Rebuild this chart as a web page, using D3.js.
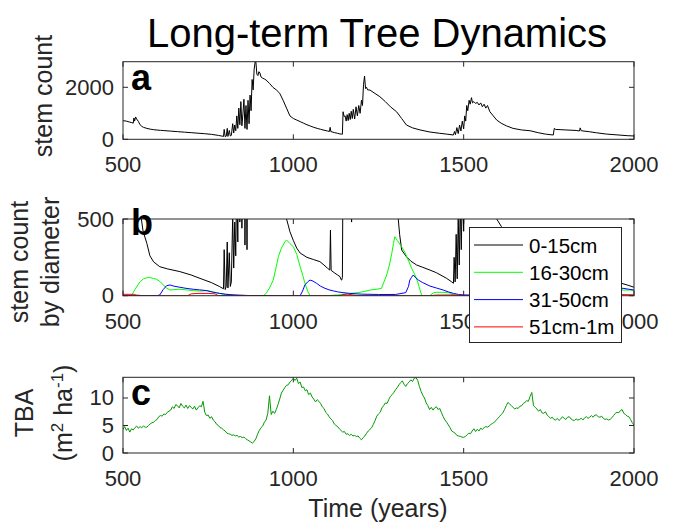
<!DOCTYPE html>
<html>
<head>
<meta charset="utf-8">
<script src="https://cdn.jsdelivr.net/npm/d3@7"></script>
<style>
  body { margin: 0; background: #fff; }
  svg { display: block; font-family: "Liberation Sans", Arial, Helvetica, sans-serif; }
</style>
</head>
<body>
<script>
// ---- data ----
const xTicks = [500, 1000, 1500, 2000];

// panel a: total stem count, [year, count]
const stemTotal = [
  [500, 715], [510, 700], [520, 660], [526, 640], [530, 620], [532, 820], [534, 700], [537, 860], [540, 780],
  [545, 690], [550, 560], [555, 500], [560, 460], [570, 420], [580, 390], [590, 370], [600, 355], [610, 345],
  [620, 335], [640, 315], [660, 295], [680, 275], [700, 255], [720, 235], [740, 215], [760, 190], [780, 150],
  [790, 125], [795, 110], [797, 380], [800, 100], [803, 120], [806, 420], [808, 110], [812, 340], [815, 130],
  [818, 150], [822, 600], [825, 240], [828, 550], [831, 330], [834, 900], [837, 420], [840, 1200], [843, 560],
  [846, 1450], [849, 520], [852, 980], [855, 1540], [858, 420], [861, 1300], [864, 380], [867, 1500], [870, 600],
  [873, 1700], [876, 1100], [879, 2300], [882, 1900], [885, 2700], [888, 2985], [890, 2985], [893, 2500],
  [896, 2450], [899, 2600], [902, 2550], [905, 2400], [910, 2350], [915, 2320], [920, 2280], [930, 2150],
  [940, 2000], [950, 1900], [960, 1770], [970, 1500], [980, 1200], [990, 900], [1000, 800], [1010, 740],
  [1020, 680], [1030, 620], [1040, 560], [1050, 510], [1060, 460], [1070, 420], [1080, 385], [1090, 350],
  [1100, 320], [1106, 300], [1108, 460], [1110, 300], [1120, 260], [1130, 230], [1137, 205], [1142, 200],
  [1144, 195], [1146, 1060], [1149, 880], [1152, 900], [1155, 700], [1158, 950], [1161, 720], [1164, 1000],
  [1167, 760], [1170, 1080], [1173, 800], [1176, 1150], [1180, 780], [1184, 1250], [1188, 900], [1192, 1300],
  [1196, 1000], [1200, 1500], [1203, 1300], [1206, 2100], [1209, 2435], [1212, 1950], [1215, 2000], [1218, 1900],
  [1225, 1895], [1240, 1760], [1254, 1640], [1270, 1450], [1285, 1250], [1303, 1060], [1318, 800], [1332, 550],
  [1350, 440], [1372, 360], [1401, 280], [1430, 230], [1450, 200], [1470, 165], [1473, 300], [1476, 180],
  [1480, 450], [1484, 220], [1488, 550], [1492, 320], [1496, 700], [1500, 400], [1503, 900], [1506, 700],
  [1509, 1300], [1512, 1100], [1516, 1500], [1519, 1350], [1523, 1600], [1526, 1400], [1530, 1450], [1535, 1380],
  [1540, 1420], [1545, 1320], [1550, 1400], [1555, 1250], [1560, 1350], [1565, 1200], [1570, 1300], [1577, 1060],
  [1587, 900], [1597, 740], [1610, 620], [1625, 520], [1645, 420], [1670, 360], [1695, 330], [1720, 250],
  [1740, 200], [1763, 165], [1766, 420], [1770, 380], [1800, 360], [1830, 340], [1840, 320], [1842, 440],
  [1845, 330], [1870, 290], [1890, 250], [1920, 200], [1950, 170], [1980, 140], [2000, 127]
];

// panel b: stem count per diameter class, [year, count]
const stem0to15 = [
  [500, 900], [520, 850], [540, 700], [550, 560], [559, 420], [570, 341], [579, 260], [590, 220], [608, 189],
  [630, 175], [667, 157], [700, 135], [726, 113], [760, 85], [784, 59], [795, 45], [797, 300], [800, 40],
  [803, 60], [806, 350], [808, 50], [812, 280], [815, 60], [818, 90], [822, 520], [825, 180], [828, 480],
  [831, 260], [834, 800], [837, 350], [840, 1100], [843, 480], [846, 1350], [849, 440], [852, 900], [855, 1450],
  [858, 330], [861, 1200], [864, 300], [867, 1400], [870, 520], [873, 1600], [876, 1000], [880, 2000], [900, 2200],
  [950, 1200], [970, 700], [980, 500], [985, 460], [990, 417], [1000, 360], [1010, 310], [1020, 278], [1040, 250],
  [1060, 235], [1078, 222], [1090, 200], [1100, 180], [1107, 167], [1109, 428], [1111, 165], [1120, 150],
  [1130, 135], [1137, 124], [1140, 105], [1142, 102], [1144, 120], [1146, 900], [1150, 800], [1160, 850],
  [1170, 700], [1171, 480], [1172, 700], [1180, 800], [1200, 1200], [1250, 1300], [1290, 700], [1300, 560],
  [1308, 500], [1312, 400], [1318, 298], [1332, 254], [1345, 225], [1362, 200], [1380, 185], [1401, 167],
  [1420, 150], [1450, 113], [1465, 90], [1470, 81], [1472, 250], [1475, 90], [1478, 400], [1481, 110],
  [1484, 520], [1487, 200], [1490, 600], [1493, 300], [1496, 700], [1500, 420], [1503, 800], [1510, 1000],
  [1550, 1000], [1590, 560], [1597, 500], [1611, 450], [1620, 400], [1640, 330], [1660, 280], [1680, 240],
  [1700, 210], [1720, 170], [1740, 140], [1763, 110], [1766, 250], [1770, 220], [1800, 190], [1840, 150],
  [1842, 230], [1845, 150], [1880, 120], [1920, 100], [1963, 81], [1980, 70], [2000, 55]
];
const stem16to30 = [
  [500, 0], [520, 0], [525, 2], [535, 40], [550, 91], [560, 110], [570, 117], [580, 118], [590, 112], [599, 107],
  [610, 90], [618, 70], [628, 50], [638, 37], [650, 40], [667, 42], [685, 38], [706, 33], [725, 30], [746, 33],
  [765, 25], [784, 15], [800, 8], [814, 5], [830, 0], [912, 0], [920, 15], [930, 50], [941, 102], [950, 190],
  [956, 254], [965, 310], [975, 350], [980, 363], [990, 340], [1000, 319], [1010, 270], [1020, 189], [1028, 130],
  [1034, 81], [1042, 30], [1049, 0], [1100, 0], [1130, 5], [1150, 10], [1166, 15], [1190, 20], [1210, 28],
  [1225, 37], [1245, 42], [1259, 48], [1266, 90], [1274, 135], [1282, 200], [1289, 276], [1294, 340], [1298, 385],
  [1305, 360], [1318, 319], [1328, 280], [1337, 233], [1347, 180], [1357, 135], [1365, 90], [1372, 37], [1377, 0],
  [1400, 0], [1411, 18], [1420, 22], [1440, 22], [1460, 18], [1470, 5], [1480, 0], [1600, 0], [1620, 10],
  [1650, 40], [1680, 70], [1700, 80], [1730, 60], [1760, 50], [1800, 40], [1850, 35], [1900, 40], [1950, 38],
  [1968, 37], [1990, 37], [2000, 30]
];
const stem31to50 = [
  [500, 0], [600, 0], [608, 5], [618, 40], [628, 65], [638, 70], [650, 62], [667, 55], [685, 48], [706, 42],
  [725, 38], [746, 33], [765, 22], [784, 15], [800, 10], [814, 7], [840, 4], [880, 0], [1020, 0], [1027, 30],
  [1034, 70], [1042, 90], [1049, 102], [1058, 95], [1068, 81], [1080, 62], [1093, 48], [1105, 38], [1118, 31],
  [1130, 25], [1146, 20], [1166, 15], [1200, 10], [1250, 8], [1300, 8], [1330, 20], [1338, 60], [1342, 102],
  [1347, 120], [1352, 135], [1358, 120], [1367, 102], [1380, 85], [1401, 63], [1420, 50], [1440, 37], [1455, 25],
  [1470, 15], [1485, 8], [1500, 5], [1560, 3], [1600, 5], [1650, 20], [1700, 40], [1750, 55], [1800, 60],
  [1850, 55], [1900, 50], [1950, 48], [1968, 48], [1985, 42], [2000, 37]
];
const stem51to100 = [
  [500, 9], [530, 9], [540, 4], [560, 0], [690, 0], [700, 12], [720, 15], [750, 15], [770, 12], [780, 0],
  [1140, 0], [1145, 8], [1160, 10], [1175, 5], [1190, 0], [1400, 0], [1420, 4], [1480, 5], [1500, 0], [1700, 0],
  [1750, 5], [1850, 8], [1950, 8], [2000, 6]
];
const sizeClasses = ["0-15cm", "16-30cm", "31-50cm", "51cm-1m"];

// panel c: total basal area every 5 years from 500 to 2000
const tbaYears = d3.range(500, 2001, 5);
const tbaValues = [
  4.3, 4.8, 4.1, 4.5, 3.8, 4.4, 4.2, 4.6, 4.9, 4.5, 4.8, 4.6, 4.9, 4.7, 4.7, 5.0, 5.3, 5.5, 5.6, 5.9,
  6.1, 6.6, 6.8, 6.7, 7.1, 7.0, 7.4, 7.6, 7.8, 8.4, 8.1, 8.8, 8.6, 8.2, 9.0, 8.5, 8.2, 8.7, 8.1, 8.6,
  8.3, 8.0, 8.5, 7.8, 8.2, 8.6, 8.4, 9.4, 7.4, 6.8, 6.9, 6.3, 6.6, 6.0, 5.7, 5.2, 5.0, 4.6, 4.5, 4.2,
  4.0, 3.6, 3.5, 3.4, 3.2, 3.3, 3.1, 3.2, 2.9, 3.0, 2.8, 2.9, 2.6, 2.4, 2.2, 2.0, 1.8, 2.1, 2.6, 3.4,
  4.1, 4.6, 4.9, 5.6, 6.0, 7.2, 10.4, 7.0, 7.6, 7.2, 7.9, 8.8, 9.8, 10.9, 11.4, 11.9, 12.3, 12.4, 12.9, 13.2,
  13.6, 13.2, 13.6, 12.6, 12.9, 11.9, 12.0, 11.3, 11.5, 10.6, 10.9, 10.2, 9.8, 9.3, 9.7, 9.4, 9.0, 8.4, 8.1, 7.4,
  7.1, 6.6, 6.2, 5.9, 5.3, 5.0, 4.8, 4.4, 4.1, 3.8, 3.9, 3.4, 3.5, 3.2, 3.4, 3.1, 3.2, 3.0, 3.1, 2.7,
  2.4, 2.8, 3.1, 3.6, 4.0, 4.3, 4.6, 5.2, 5.9, 6.7, 7.1, 7.4, 8.2, 8.6, 9.1, 9.0, 9.7, 10.3, 10.6, 11.0,
  11.5, 11.9, 12.4, 12.8, 13.1, 12.5, 12.1, 12.6, 12.9, 13.3, 13.0, 13.6, 13.7, 13.2, 12.1, 11.2, 10.5, 10.0, 9.1, 8.6,
  7.9, 8.3, 7.8, 8.2, 8.4, 7.9, 8.1, 7.3, 6.6, 6.0, 5.6, 5.1, 4.6, 4.0, 3.8, 3.6, 3.2, 3.1, 3.0, 2.9,
  2.85, 3.0, 3.3, 3.6, 3.5, 4.0, 4.4, 3.9, 4.3, 4.0, 4.5, 4.3, 4.6, 4.8, 4.7, 4.9, 5.2, 5.4, 5.6, 5.9,
  6.3, 6.6, 7.0, 7.3, 7.9, 8.6, 9.2, 8.9, 8.6, 8.3, 8.0, 8.2, 8.1, 8.5, 8.6, 9.0, 9.2, 9.5, 9.4, 10.3,
  11.0, 8.6, 8.3, 8.0, 7.6, 7.9, 7.3, 7.2, 7.5, 6.9, 6.6, 6.3, 6.5, 6.1, 6.0, 6.3, 5.9, 6.2, 6.6, 6.3,
  6.1, 6.5, 6.6, 6.2, 6.0, 5.9, 6.2, 6.0, 6.1, 6.3, 6.0, 6.4, 6.6, 6.3, 6.5, 6.8, 6.5, 6.9, 6.9, 6.6,
  6.5, 6.7, 6.3, 6.1, 6.2, 6.0, 6.1, 6.4, 6.8, 7.2, 7.4, 7.3, 7.7, 7.9, 7.2, 7.0, 6.7, 6.6, 6.1, 5.5,
  5.1
];

// ---- layout ----
const W = 700, H = 525;
const axisColor = "#262626";
const font = 22;

const svg = d3.select("body").append("svg").attr("width", W).attr("height", H);
svg.append("rect").attr("width", W).attr("height", H).attr("fill", "#fff");

const x = d3.scaleLinear().domain([500, 2000]).range([123, 634]);

const panels = [
  { id: "a", top: 61.7, bottom: 139.3, ymax: 2985, yTicks: [0, 2000] },
  { id: "b", top: 219, bottom: 295.7, ymax: 500, yTicks: [0, 500] },
  { id: "c", top: 377.3, bottom: 453, ymax: 13.76, yTicks: [0, 5, 10] },
];
panels.forEach((p) => {
  p.y = d3.scaleLinear().domain([0, p.ymax]).range([p.bottom, p.top]);
});

// draw one axes box with inward ticks on all four sides
function drawAxes(p) {
  const g = svg.append("g");
  const [x0, x1] = x.range();
  const tl = 5;
  xTicks.forEach((t) => {
    g.append("line").attr("x1", x(t)).attr("x2", x(t)).attr("y1", p.bottom).attr("y2", p.bottom - tl)
      .attr("stroke", axisColor);
    g.append("line").attr("x1", x(t)).attr("x2", x(t)).attr("y1", p.top).attr("y2", p.top + tl)
      .attr("stroke", axisColor);
    g.append("text").attr("x", x(t)).attr("y", p.bottom + 33)
      .attr("text-anchor", "middle").attr("font-size", font).attr("fill", axisColor)
      .text(t);
  });
  p.yTicks.forEach((t) => {
    g.append("line").attr("x1", x0).attr("x2", x0 + tl).attr("y1", p.y(t)).attr("y2", p.y(t))
      .attr("stroke", axisColor);
    g.append("line").attr("x1", x1).attr("x2", x1 - tl).attr("y1", p.y(t)).attr("y2", p.y(t))
      .attr("stroke", axisColor);
    g.append("text").attr("x", x0 - 9).attr("y", p.y(t))
      .attr("text-anchor", "end").attr("dominant-baseline", "central")
      .attr("font-size", font).attr("fill", axisColor)
      .text(t);
  });

  // clip for the data lines
  svg.append("clipPath").attr("id", "clip-" + p.id)
    .append("rect")
    .attr("x", x0).attr("y", p.top)
    .attr("width", x1 - x0).attr("height", p.bottom - p.top);
}

function drawLine(p, data, color) {
  const line = d3.line().x((d) => x(d[0])).y((d) => p.y(d[1]));
  svg.append("path")
    .datum(data)
    .attr("clip-path", `url(#clip-${p.id})`)
    .attr("fill", "none")
    .attr("stroke", color)
    .attr("stroke-width", 1)
    .attr("stroke-linejoin", "round")
    .attr("d", line);
}

panels.forEach(drawAxes);

// ---- panel a ----
drawLine(panels[0], stemTotal, "#000");

// ---- panel b ----
const classColors = ["#000000", "#00ff00", "#0000ff", "#ff0000"];
[stem0to15, stem16to30, stem31to50, stem51to100].forEach((s, i) => drawLine(panels[1], s, classColors[i]));

// ---- panel c ----
drawLine(panels[2], tbaYears.map((yr, i) => [yr, tbaValues[i]]), "#009900");

// box outlines on top of the lines (like matlab)
panels.forEach((p) => {
  const [x0, x1] = x.range();
  svg.append("rect")
    .attr("x", x0).attr("y", p.top)
    .attr("width", x1 - x0).attr("height", p.bottom - p.top)
    .attr("fill", "none").attr("stroke", axisColor).attr("stroke-width", 1);
});

// ---- panel letters ----
const letterBase = [89.5, 235, 405];
panels.forEach((p, i) => {
  svg.append("text").attr("x", 131).attr("y", letterBase[i])
    .attr("font-size", 36).attr("font-weight", "bold").attr("fill", "#000")
    .text(p.id);
});

// ---- legend ----
const lg = svg.append("g");
lg.append("rect")
  .attr("x", 469.5).attr("y", 227.5).attr("width", 152).attr("height", 115)
  .attr("fill", "#fff").attr("stroke", axisColor).attr("stroke-width", 1);
sizeClasses.forEach((name, i) => {
  const yy = 245 + i * 27.3;
  lg.append("line").attr("x1", 474).attr("x2", 523).attr("y1", yy).attr("y2", yy)
    .attr("stroke", classColors[i]).attr("stroke-width", 1);
  lg.append("text").attr("x", 529).attr("y", yy)
    .attr("dominant-baseline", "central").attr("font-size", 20.5).attr("fill", "#000")
    .text(name);
});

// ---- title and labels ----
svg.append("text").attr("x", 377).attr("y", 47)
  .attr("text-anchor", "middle").attr("font-size", 40).attr("fill", "#000")
  .text("Long-term Tree Dynamics");

svg.append("text").attr("x", 378).attr("y", 517)
  .attr("text-anchor", "middle").attr("font-size", 25).attr("fill", axisColor)
  .text("Time (years)");

function ylabel(bx, cy, build) {
  const t = svg.append("text")
    .attr("transform", `translate(${bx},${cy}) rotate(-90)`)
    .attr("text-anchor", "middle").attr("font-size", 25).attr("fill", axisColor);
  build(t);
  return t;
}
ylabel(52, 96, (t) => t.text("stem count"));
ylabel(28, 262, (t) => t.text("stem count"));
ylabel(59, 262, (t) => t.text("by diameter"));
ylabel(33, 413, (t) => t.text("TBA"));
ylabel(72, 413, (t) => {
  t.append("tspan").text("(m");
  t.append("tspan").attr("dy", -9).attr("font-size", 17).text("2");
  t.append("tspan").attr("dy", 9).text(" ha");
  t.append("tspan").attr("dy", -9).attr("font-size", 17).text("-1");
  t.append("tspan").attr("dy", 9).text(")");
});
</script>
</body>
</html>
